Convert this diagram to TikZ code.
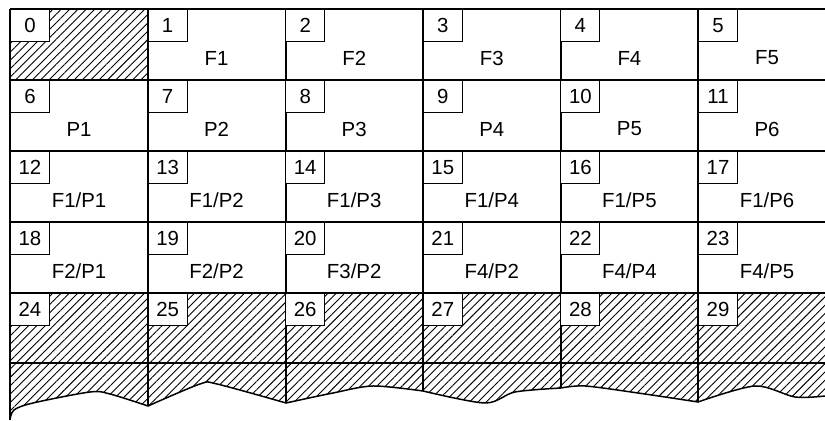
\documentclass[tikz,border=0pt]{standalone}
\usepackage{fontspec}
\setmainfont{Liberation Sans}
\usetikzlibrary{patterns.meta}

\tikzset{
  numbox/.style={draw, fill=white, line width=0.5pt, inner sep=0pt,
    minimum width=19.5pt, minimum height=16pt, anchor=north west,
    font=\fontsize{10.2}{12}\selectfont},
  celltext/.style={inner sep=0pt, font=\fontsize{10.2}{12}\selectfont},
  hatch/.style={pattern={Lines[angle=45,distance=2.95pt,line width=0.45pt]}},
  gridline/.style={line width=0.75pt}
}

\begin{document}
\begin{tikzpicture}[x=0.5pt,y=-0.5pt]
    \useasboundingbox (0,0) rectangle (825,421);

    % Hatched areas
    \fill[hatch] (10,9) rectangle (148,80);
    \fill[hatch] (10,293) -- plot[smooth] coordinates {(10,420) (14,410) (33,403) (90,392) (110,394) (148,406)}
        -- plot[smooth] coordinates {(148,406) (200,384) (217,384) (286,403)}
        -- plot[smooth] coordinates {(286,403) (333,393) (373,386) (423,391)}
        -- plot[smooth] coordinates {(423,391) (485,403) (515,392) (561,388)}
        -- plot[smooth] coordinates {(561,388) (585,386) (638,393) (698,402)}
        -- plot[smooth] coordinates {(698,402) (755,386) (795,397) (825,396)}
        -- (825,293) -- cycle;

    % Torn lower edge
    \draw[gridline] plot[smooth] coordinates {(10,420) (14,410) (33,403) (90,392) (110,394) (148,406)}
        -- plot[smooth] coordinates {(148,406) (200,384) (217,384) (286,403)}
        -- plot[smooth] coordinates {(286,403) (333,393) (373,386) (423,391)}
        -- plot[smooth] coordinates {(423,391) (485,403) (515,392) (561,388)}
        -- plot[smooth] coordinates {(561,388) (585,386) (638,393) (698,402)}
        -- plot[smooth] coordinates {(698,402) (755,386) (795,397) (825,396)};

    % Grid
    \foreach \y in {9,80,151,222,293}
        \draw[gridline] (10,\y) -- (825,\y);
    \draw[line width=1pt] (10,363) -- (825,363);
    \draw[gridline] (10,9) -- (10,420);
    \foreach \x/\b in {148/406, 286/403, 423/391, 561/388, 698/402}
        \draw[gridline] (\x,9) -- (\x,\b);

    % Cell numbers
    \foreach \n in {0,...,29} {
        \pgfmathtruncatemacro{\c}{mod(\n,6)}
        \pgfmathtruncatemacro{\r}{int(\n/6)}
        \node[numbox] (n\n) at ({10+137.6*\c},{9+71*\r}) {\n};
    }

    % Cell labels
    \foreach \n/\txt in {1/F1, 2/F2, 3/F3, 4/F4, 5/F5,
                         6/P1, 7/P2, 8/P3, 9/P4, 10/P5, 11/P6,
                         12/{F1/P1}, 13/{F1/P2}, 14/{F1/P3}, 15/{F1/P4}, 16/{F1/P5}, 17/{F1/P6},
                         18/{F2/P1}, 19/{F2/P2}, 20/{F3/P2}, 21/{F4/P2}, 22/{F4/P4}, 23/{F4/P5}} {
        \pgfmathtruncatemacro{\c}{mod(\n,6)}
        \pgfmathtruncatemacro{\r}{int(\n/6)}
        \node[celltext] (t\n) at ({79+137.6*\c},{58+71*\r}) {\txt};
    }
\end{tikzpicture}
\end{document}
